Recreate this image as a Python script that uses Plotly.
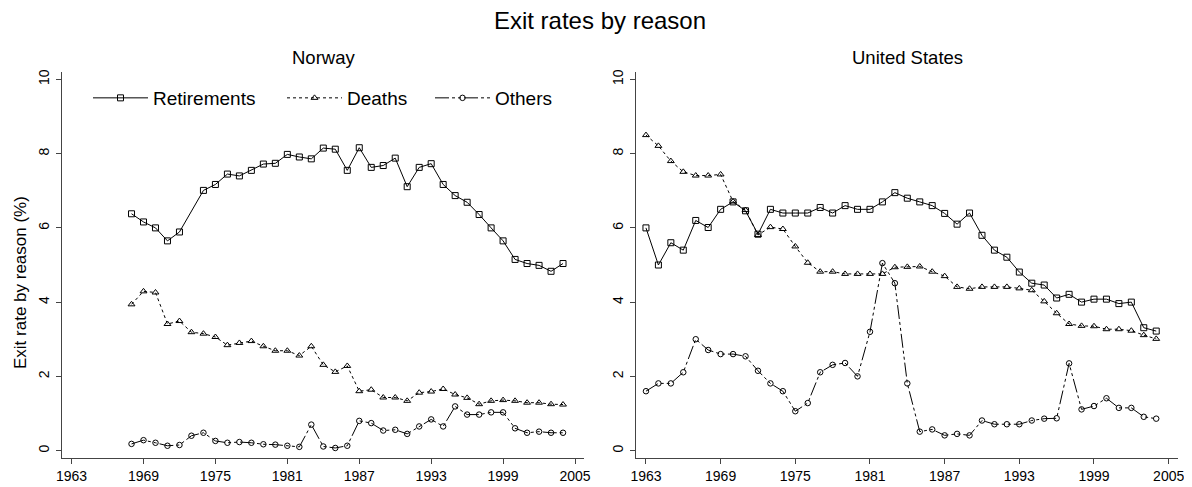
import plotly.graph_objects as go

# ---------------- data ----------------
years_no = list(range(1968, 2005))
years_us = list(range(1963, 2005))

no_retirements = [6.38, 6.16, 6.00, 5.65, 5.89, None, 7.01, 7.17, 7.45, 7.40, 7.55, 7.72, 7.74,
                  7.98, 7.91, 7.86, 8.15, 8.12, 7.55, 8.16, 7.63, 7.68, 7.88, 7.11, 7.63, 7.73,
                  7.17, 6.87, 6.69, 6.36, 6.00, 5.65, 5.15, 5.04, 4.99, 4.83, 5.04]
no_deaths = [3.94, 4.29, 4.26, 3.41, 3.49, 3.19, 3.15, 3.06, 2.84, 2.90, 2.95, 2.81, 2.69,
             2.69, 2.56, 2.81, 2.31, 2.12, 2.28, 1.60, 1.64, 1.43, 1.43, 1.34, 1.56, 1.59,
             1.66, 1.51, 1.42, 1.25, 1.34, 1.36, 1.34, 1.29, 1.29, 1.25, 1.24]
no_others = [0.18, 0.28, 0.21, 0.13, 0.15, 0.40, 0.48, 0.26, 0.21, 0.23, 0.21, 0.17, 0.16,
             0.13, 0.10, 0.70, 0.11, 0.07, 0.13, 0.80, 0.74, 0.54, 0.56, 0.45, 0.65, 0.84,
             0.65, 1.19, 0.97, 0.97, 1.03, 1.03, 0.60, 0.48, 0.51, 0.48, 0.48]

us_retirements = [6.00, 5.00, 5.60, 5.40, 6.20, 6.01, 6.50, 6.70, 6.46, 5.83, 6.50, 6.40, 6.40,
                  6.40, 6.55, 6.40, 6.60, 6.50, 6.50, 6.70, 6.95, 6.80, 6.70, 6.60, 6.39, 6.10,
                  6.40, 5.80, 5.40, 5.21, 4.81, 4.51, 4.46, 4.11, 4.21, 4.00, 4.08, 4.08, 3.96,
                  4.00, 3.31, 3.22]
us_deaths = [8.50, 8.21, 7.80, 7.51, 7.41, 7.41, 7.44, 6.71, 6.48, 5.81, 6.02, 5.97, 5.50,
             5.06, 4.82, 4.82, 4.76, 4.76, 4.76, 4.76, 4.94, 4.95, 4.96, 4.82, 4.70, 4.41,
             4.36, 4.41, 4.41, 4.41, 4.37, 4.32, 4.02, 3.70, 3.41, 3.36, 3.35, 3.27, 3.27,
             3.23, 3.11, 3.01]
us_others = [1.60, 1.81, 1.81, 2.11, 3.00, 2.71, 2.60, 2.60, 2.54, 2.15, 1.81, 1.60, 1.06,
             1.28, 2.11, 2.31, 2.36, 2.00, 3.20, 5.05, 4.51, 1.81, 0.51, 0.57, 0.41, 0.45,
             0.41, 0.81, 0.71, 0.71, 0.71, 0.81, 0.86, 0.87, 2.35, 1.11, 1.20, 1.41, 1.15,
             1.15, 0.91, 0.86]

series_names = ["Retirements", "Deaths", "Others"]
x_ticks = [1963, 1969, 1975, 1981, 1987, 1993, 1999, 2005]
y_ticks = [0, 2, 4, 6, 8, 10]

# ---------------- styles ----------------
FONT = "Liberation Sans, Arial, sans-serif"
styles = {
    "Retirements": dict(dash="solid", symbol="square-open", size=6, legend="legend"),
    "Deaths": dict(dash="3px,3px", symbol="triangle-up-open", size=6, legend="legend2"),
    "Others": dict(dash="14px,3px,3px,3px,3px,3px", symbol="circle-open", size=5.5,
                   legend="legend3"),
}

# page geometry (browser adds an 8px body margin)
OFF = 8
PAGE_W, PAGE_H = 1192, 487
W, H = PAGE_W - OFF, PAGE_H - OFF
P_LEFT, P_RIGHT, P_TOP, P_BOTTOM = 62, 1178, 72, 458
PW = P_RIGHT - P_LEFT
PH = P_BOTTOM - P_TOP


def px_x(px):
    return (px - P_LEFT) / PW


def px_y(py):
    return (P_BOTTOM - py) / PH


fig = go.Figure()


def add(xs, ys, name, xaxis, yaxis, show):
    st = styles[name]
    fig.add_trace(go.Scatter(
        x=xs, y=ys, name=name, mode="lines+markers", connectgaps=True,
        xaxis=xaxis, yaxis=yaxis, showlegend=show, legend=st["legend"],
        line=dict(color="black", width=1, dash=st["dash"]),
        marker=dict(symbol=st["symbol"], size=st["size"], color="black",
                    line=dict(color="black", width=1)),
    ))


for name, ys in zip(series_names, [no_retirements, no_deaths, no_others]):
    add(years_no, ys, name, "x", "y", True)
for name, ys in zip(series_names, [us_retirements, us_deaths, us_others]):
    add(years_us, ys, name, "x2", "y2", False)

xcommon = dict(range=[1962.2, 2005.75], tickmode="array", tickvals=x_ticks,
               ticks="outside", ticklen=5, tickwidth=1, tickcolor="#444",
               showline=True, linecolor="#444", linewidth=1, showgrid=False,
               zeroline=False, tickfont=dict(family=FONT, size=14, color="black"))
ycommon = dict(range=[-0.2, 10.2], tickmode="array", tickvals=y_ticks,
               ticks="outside", ticklen=5, tickwidth=1, tickcolor="#444",
               showline=True, linecolor="#444", linewidth=1, showgrid=False,
               zeroline=False, tickangle=-90, ticklabelstandoff=1,
               tickfont=dict(family=FONT, size=14, color="black"))

legend_common = dict(orientation="h", xanchor="left", yanchor="middle",
                     font=dict(family=FONT, size=19), bgcolor="rgba(0,0,0,0)",
                     itemwidth=55)

fig.update_layout(
    width=W, height=H,
    margin=dict(l=P_LEFT - OFF, r=PAGE_W - P_RIGHT, t=P_TOP - OFF, b=PAGE_H - P_BOTTOM,
                autoexpand=False),
    paper_bgcolor="white", plot_bgcolor="white",
    font=dict(family=FONT, color="black"),
    title=dict(text="Exit rates by reason", x=0.5, xanchor="center",
               y=1.0, yanchor="top", pad=dict(t=4), font=dict(family=FONT, size=24)),
    xaxis=dict(domain=[0, px_x(584)], anchor="y", **xcommon),
    yaxis=dict(domain=[0, 1], anchor="x", **ycommon),
    xaxis2=dict(domain=[px_x(636), 1], anchor="y2", **xcommon),
    yaxis2=dict(domain=[0, 1], anchor="x2", **ycommon),
    legend=dict(x=px_x(88), y=px_y(98), **legend_common),
    legend2=dict(x=px_x(282), y=px_y(98), **legend_common),
    legend3=dict(x=px_x(430), y=px_y(98), **legend_common),
    annotations=[
        dict(text="Norway", xref="paper", yref="paper", x=px_x(323), y=px_y(57),
             xanchor="center", yanchor="middle", showarrow=False,
             font=dict(family=FONT, size=18.5)),
        dict(text="United States", xref="paper", yref="paper", x=px_x(907), y=px_y(57),
             xanchor="center", yanchor="middle", showarrow=False,
             font=dict(family=FONT, size=18.5)),
        dict(text="Exit rate by reason (%)", xref="paper", yref="paper", x=px_x(20),
             y=px_y(283), xanchor="center", yanchor="middle", showarrow=False,
             textangle=-90, font=dict(family=FONT, size=17)),
    ],
)

fig.write_html("out.html")
